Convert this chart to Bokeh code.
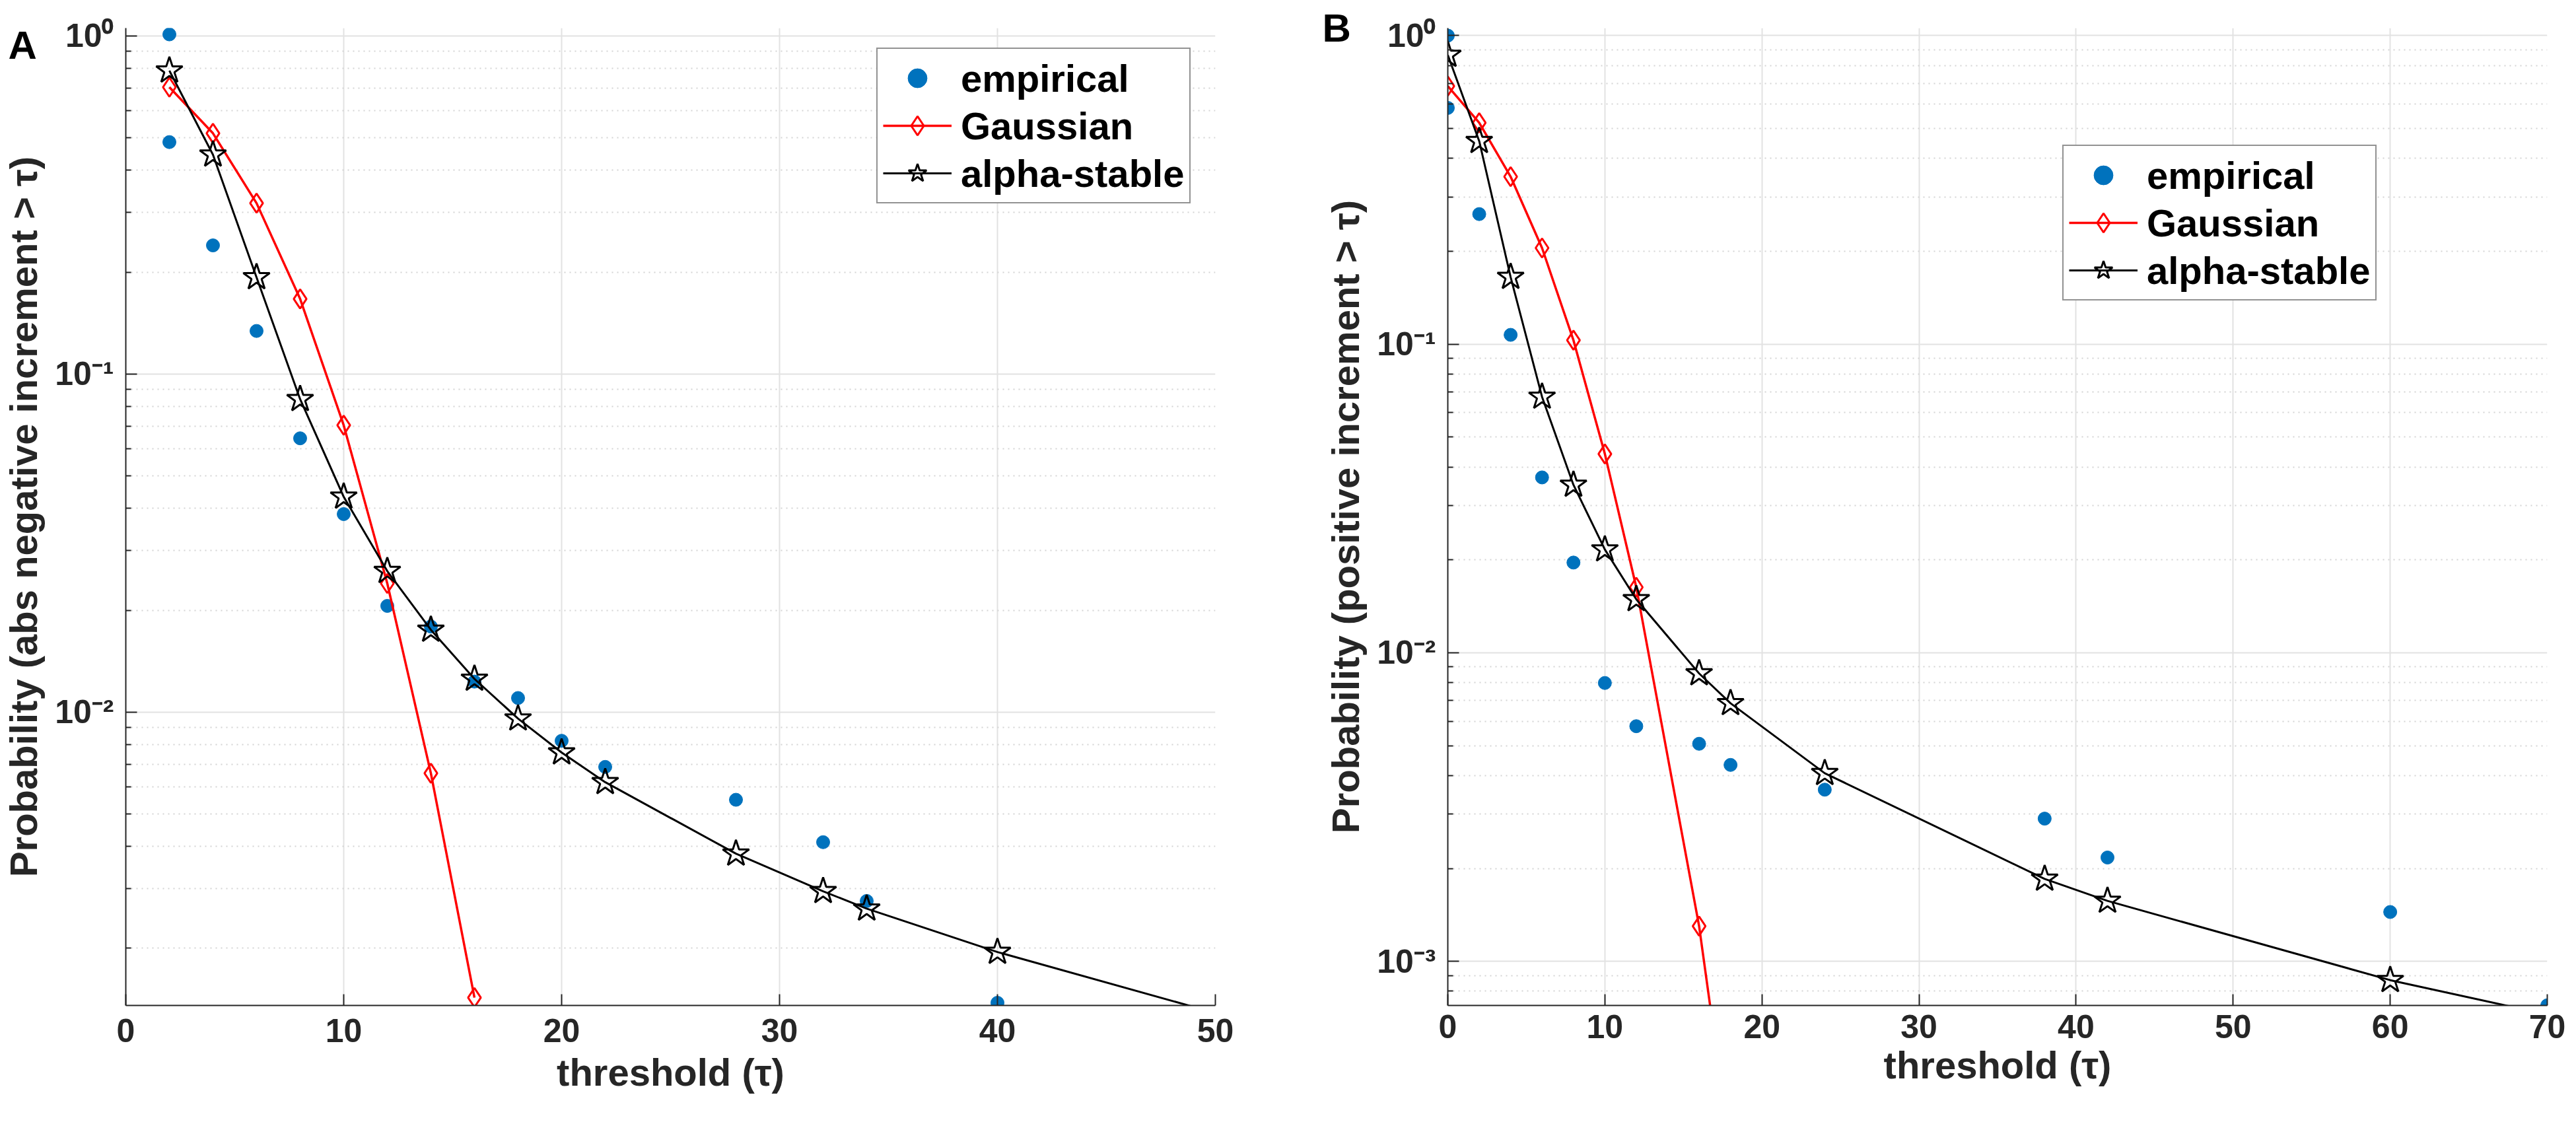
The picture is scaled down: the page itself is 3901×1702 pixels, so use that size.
from bokeh.plotting import figure
from bokeh.layouts import row
from bokeh.models import (Range1d, FixedTicker, CustomJSTickFormatter, Legend, LegendItem)
from bokeh.core.properties import value
from bokeh.embed import file_html
from bokeh.resources import INLINE

# ---------------- data: panel A (abs negative increments) ----------------
a_emp_x = [2, 2, 4, 6, 8, 10, 12, 14, 16, 18, 20, 22, 28, 32, 34, 40]
a_emp_y = [1.01, 0.485, 0.240, 0.134, 0.0645, 0.0385, 0.0206, 0.0179, 0.0123,
           0.0110, 0.00822, 0.00688, 0.0055, 0.00412, 0.00276, 0.00138]
a_gau_x = [2, 4, 6, 8, 10, 12, 14, 16]
a_gau_y = [0.705, 0.515, 0.320, 0.1667, 0.0705, 0.0240, 0.00659, 0.00143]
a_stb_x = [2, 4, 6, 8, 10, 12, 14, 16, 18, 20, 22, 28, 32, 34, 40, 60]
a_stb_y = [0.789, 0.445, 0.193, 0.0842, 0.0433, 0.0261, 0.0175, 0.01253,
           0.00956, 0.00759, 0.00620, 0.00381, 0.00295, 0.00262, 0.00195, 0.00085]

# ---------------- data: panel B (positive increments) ----------------
b_emp_x = [0, 0, 2, 4, 6, 8, 10, 12, 16, 18, 24, 38, 42, 60, 70]
b_emp_y = [1.0, 0.583, 0.264, 0.1072, 0.0370, 0.0196, 0.00798, 0.00578, 0.00507,
           0.00433, 0.00360, 0.0029, 0.00217, 0.001445, 0.00072]
b_gau_x = [0, 2, 4, 6, 8, 10, 12, 16, 18]
b_gau_y = [0.686, 0.522, 0.349, 0.205, 0.103, 0.0441, 0.0163, 0.0013, 0.00024]
b_stb_x = [0, 2, 4, 6, 8, 10, 12, 16, 18, 24, 38, 42, 60, 80]
b_stb_y = [0.865, 0.455, 0.165, 0.0675, 0.0350, 0.0216, 0.0149, 0.00857, 0.00686,
           0.00407, 0.00185, 0.00157, 0.000869, 0.00052]

a_xticks = [0, 10, 20, 30, 40, 50]
b_xticks = [0, 10, 20, 30, 40, 50, 60, 70]
y_major = [1, 0.1, 0.01, 0.001]
y_minor = [m * 10.0 ** e for e in range(-4, 0) for m in range(2, 10)]

series_labels = ["empirical", "Gaussian", "alpha-stable"]
x_label = "threshold (τ)"
a_ylabel = "Probability (abs negative increment > τ)"
b_ylabel = "Probability (positive increment > τ)"

FONT = "Liberation Sans"
DARK = "#262626"
BLUE = "#0072BD"
RED = "#FF0000"

sup_fmt_code = """
const m = {"-": "\u207b", "0": "\u2070", "1": "\u00b9", "2": "\u00b2", "3": "\u00b3", "4": "\u2074"};
const e = Math.round(Math.log10(tick));
return "10" + String(e).split("").map(c => m[c]).join("");
"""


def make_panel(emp_x, emp_y, gau_x, gau_y, stb_x, stb_y, xmax, xticks, ylog_min, ylog_top,
               ylabel, letter, letter_x, letter_y, legend_loc, width, height,
               bl, br, bt, bb, x_std1, x_std2):
    p = figure(width=width, height=height, y_axis_type="log",
               x_range=Range1d(0, xmax), y_range=Range1d(10 ** ylog_min, 10 ** ylog_top),
               output_backend="svg", toolbar_location=None,
               min_border_left=bl, min_border_right=br, min_border_top=bt, min_border_bottom=bb)
    p.outline_line_color = None
    p.background_fill_color = "white"
    p.border_fill_color = "white"

    yt = FixedTicker(ticks=y_major, minor_ticks=y_minor)
    xt = FixedTicker(ticks=xticks)
    p.yaxis[0].ticker = yt
    p.ygrid[0].ticker = yt
    p.xaxis[0].ticker = xt
    p.xgrid[0].ticker = xt
    p.yaxis[0].formatter = CustomJSTickFormatter(code=sup_fmt_code)

    for ax in p.axis:
        ax.axis_line_color = DARK
        ax.axis_line_width = 2
        ax.major_tick_line_color = DARK
        ax.major_tick_line_width = 2
        ax.major_tick_in = 17
        ax.major_tick_out = 0
        ax.minor_tick_line_color = DARK
        ax.minor_tick_line_width = 2
        ax.minor_tick_in = 8
        ax.minor_tick_out = 0
        ax.major_label_text_font = FONT
        ax.major_label_text_font_size = "50px"
        ax.major_label_text_font_style = "bold"
        ax.major_label_text_color = DARK
        ax.axis_label_text_font = FONT
        ax.axis_label_text_font_size = "58px"
        ax.axis_label_text_font_style = "bold"
        ax.axis_label_text_color = DARK
    p.xaxis.minor_tick_line_color = None
    p.xaxis.major_label_standoff = x_std1
    p.xaxis.axis_label_standoff = x_std2
    p.yaxis.major_label_standoff = 18
    p.yaxis.axis_label_standoff = 12
    p.xaxis.axis_label = x_label
    p.yaxis.axis_label = ylabel

    p.xgrid.grid_line_color = "#e2e2e2"
    p.xgrid.grid_line_width = 2
    p.ygrid.grid_line_color = "#e2e2e2"
    p.ygrid.grid_line_width = 2
    p.ygrid.minor_grid_line_color = "#d4d4d4"
    p.ygrid.minor_grid_line_width = 2
    p.ygrid.minor_grid_line_dash = "2 6"

    r_emp = p.scatter(emp_x, emp_y, marker="circle", size=20, fill_color=BLUE,
                      line_color=BLUE, line_width=1)
    r_gl = p.line(gau_x, gau_y, line_color=RED, line_width=3.5, line_join="round")
    r_gm = p.scatter(gau_x, gau_y, marker="diamond", size=29, fill_color=None,
                     line_color=RED, line_width=3)
    r_sl = p.line(stb_x, stb_y, line_color="black", line_width=3, line_join="round")
    r_sm = p.scatter(stb_x, stb_y, marker="star", size=42, fill_color=None,
                     line_color="black", line_width=3)

    legend = Legend(items=[
        LegendItem(label=series_labels[0], renderers=[r_emp]),
        LegendItem(label=series_labels[1], renderers=[r_gl, r_gm]),
        LegendItem(label=series_labels[2], renderers=[r_sl, r_sm]),
    ], location=legend_loc)
    legend.label_text_font = FONT
    legend.label_text_font_size = "58px"
    legend.label_text_font_style = "bold"
    legend.label_text_color = "black"
    legend.label_height = 72
    legend.glyph_height = 72
    legend.glyph_width = 104
    legend.label_standoff = 14
    legend.spacing = 0
    legend.padding = 8
    legend.margin = 0
    legend.border_line_color = DARK
    legend.border_line_width = 2
    legend.background_fill_color = "white"
    legend.background_fill_alpha = 1
    p.add_layout(legend)

    # panel letter, drawn on the overlay level so it is not clipped to the frame
    p.text(x=[letter_x], y=[letter_y], text=[letter], text_font=value(FONT),
           text_font_size=value("60px"), text_font_style="bold", text_color="black",
           text_align="center", text_baseline="middle", level="overlay")
    return p


pA = make_panel(a_emp_x, a_emp_y, a_gau_x, a_gau_y, a_stb_x, a_stb_y, 50, a_xticks,
                -2.868, 0.023, a_ylabel, "A", -4.74, 0.94,
                (1137, 1214), 1960, 1686, 184, 120, 15, 164, 20, 10)
pB = make_panel(b_emp_x, b_emp_y, b_gau_x, b_gau_y, b_stb_x, b_stb_y, 70, b_xticks,
                -3.143, 0.0244, b_ylabel, "B", -7.08, 1.058,
                (931, 1067), 1925, 1686, 232, 28, 42, 153, 14, 5)

layout = row(pA, pB)
open("out.html", "w").write(file_html(layout, INLINE))
